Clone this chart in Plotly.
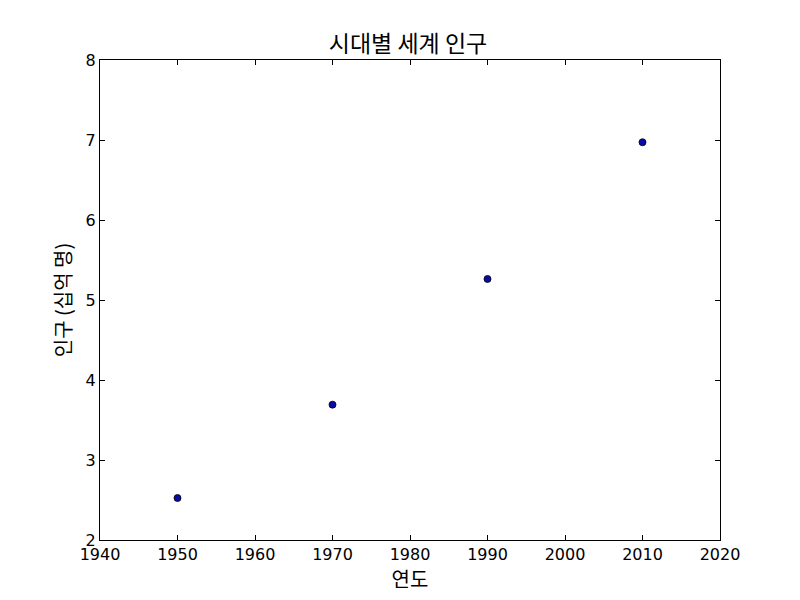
import plotly.graph_objects as go

years = [1950, 1970, 1990, 2010]
population = [2.525, 3.692, 5.263, 6.972]
x_ticks = [1940, 1950, 1960, 1970, 1980, 1990, 2000, 2010, 2020]
y_ticks = [2, 3, 4, 5, 6, 7, 8]

title_text = "시대별 세계 인구"
x_title = "연도"
y_title = "인구 (십억 명)"

fig = go.Figure(go.Scatter(
    x=years, y=population, mode="markers",
    marker=dict(size=7, color="#0a0aa8", line=dict(color="black", width=0.8)),
))

axis_common = dict(
    showgrid=False, zeroline=False, showline=True, linecolor="black", linewidth=1,
    mirror="ticks", ticks="inside", ticklen=5, tickcolor="black", tickwidth=1,
    tickfont=dict(family="DejaVu Sans", size=16, color="black"),
)

fig.update_layout(
    width=800, height=600,
    paper_bgcolor="white", plot_bgcolor="white",
    margin=dict(l=92, r=88, t=52, b=68),
    showlegend=False,
    title=dict(text=title_text, x=0.5, xanchor="center", y=0.94, yanchor="middle",
               font=dict(family="Noto Sans CJK KR", size=23, color="black")),
    xaxis=dict(range=[1940, 2020], tickvals=x_ticks,
               title=dict(text=x_title, standoff=4,
                          font=dict(family="Noto Sans CJK KR", size=20, color="black")),
               **axis_common),
    yaxis=dict(range=[2, 8], tickvals=y_ticks,
               title=dict(text=y_title, standoff=8,
                          font=dict(family="Noto Sans CJK KR", size=20, color="black")),
               **axis_common),
)

fig.write_html("out.html")
